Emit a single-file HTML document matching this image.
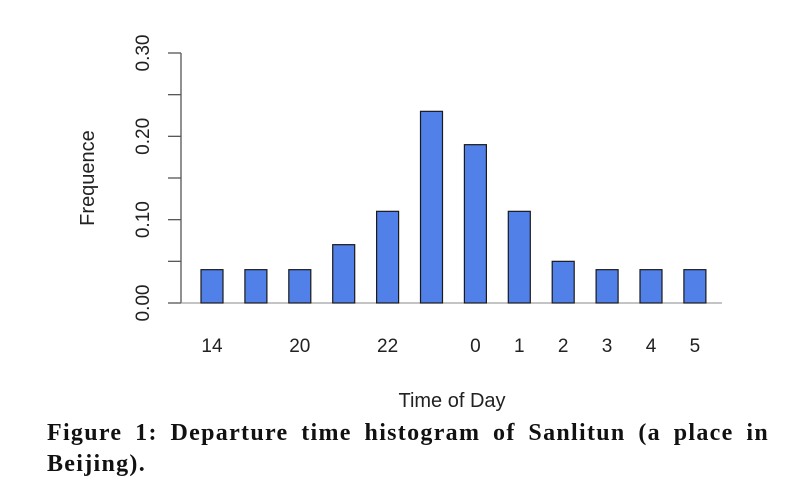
<!DOCTYPE html>
<html><head><meta charset="utf-8"><style>
body{margin:0;background:#fff;width:811px;height:503px;overflow:hidden}
svg{position:absolute;left:0;top:0}
.cap{position:absolute;left:47px;width:722px;font:bold 24px "Liberation Serif",serif;color:#111;white-space:nowrap;letter-spacing:1.3px}
.l1{top:420px;text-align:justify;text-align-last:justify}
.l2{top:451px}
</style></head><body>
<svg width="811" height="415">
<g id="plot"></g>
</svg>
<div>
<div class="cap l1">Figure 1: Departure time histogram of Sanlitun (a place in</div>
<div class="cap l2">Beijing).</div>
</div>
<script>
const categories=["14","","20","","22","","0","1","2","3","4","5"];
const values=[0.04,0.04,0.04,0.07,0.11,0.23,0.19,0.11,0.05,0.04,0.04,0.04];
const yTicks=[0,0.05,0.1,0.15,0.2,0.25,0.3];
const yLabels=["0.00","","0.10","","0.20","","0.30"];
const NS="http://www.w3.org/2000/svg";
const g=document.getElementById('plot');
const y=v=>303-v/0.3*250;
const x=i=>212+i*43.9;
function mk(t,a,p){const e=document.createElementNS(NS,t);for(const k in a)e.setAttribute(k,a[k]);(p||g).appendChild(e);return e;}
let e=mk('line',{x1:181,x2:181,y1:y(0.3),y2:y(0),stroke:'#555','stroke-width':1.3});


e=mk('line',{x1:181,x2:722,y1:303,y2:303,stroke:'#888','stroke-width':1});


yTicks.forEach((v,i)=>{
 let t=mk('line',{x1:168,x2:181,y1:y(v),y2:y(v),stroke:'#555','stroke-width':1.3});
 
 
 if(yLabels[i]){
  let tx=mk('text',{x:0,y:0,transform:`translate(149,${y(v)}) rotate(-90)`,'text-anchor':'middle','font-family':'Liberation Sans, sans-serif','font-size':19,fill:'#222'});
  tx.textContent=yLabels[i];
  
  
 }
});
values.forEach((v,i)=>{
 let r=mk('rect',{x:x(i)-11,y:y(v),width:22,height:303-y(v),fill:'#5080e8',stroke:'#1a1a1a','stroke-width':1.2});
 
 
 if(categories[i]){
  let tx=mk('text',{x:x(i),y:352,'text-anchor':'middle','font-family':'Liberation Sans, sans-serif','font-size':19,fill:'#222'});
  tx.textContent=categories[i];
  
  
 }
});
e=mk('text',{x:0,y:0,transform:'translate(94,178) rotate(-90)','text-anchor':'middle','font-family':'Liberation Sans, sans-serif','font-size':20,fill:'#222'});
e.textContent='Frequence';


e=mk('text',{x:452,y:407,'text-anchor':'middle','font-family':'Liberation Sans, sans-serif','font-size':20,fill:'#222'});
e.textContent='Time of Day';


</script>
</body></html>
